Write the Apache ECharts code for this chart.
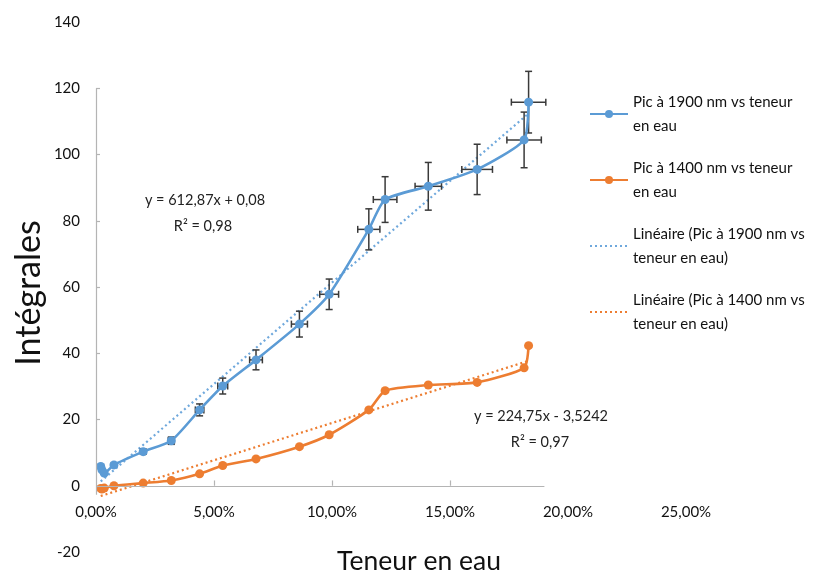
<!DOCTYPE html>
<html>
<head>
<meta charset="utf-8">
<script src="https://cdn.jsdelivr.net/npm/echarts@6/dist/echarts.min.js"></script>
<style>html,body{margin:0;padding:0;background:#fff;}#c{width:835px;height:575px;}</style>
</head>
<body>
<div id="c"></div>
<script>
// Water content (fraction) shared by both series
var waterContent = [0.0020,0.0025,0.0035,0.0076,0.0200,0.0319,0.0439,0.0537,0.0678,0.0862,0.0988,0.1156,0.1225,0.1408,0.1615,0.1814,0.1833];
// Integrals, peak at 1900 nm
var pic1900 = [5.8,4.8,3.8,6.3,10.3,13.6,22.9,30.1,38.0,48.8,57.8,77.4,86.4,90.4,95.5,104.4,115.8];
var pic1900ErrY = [0.5,0.4,0.3,0.5,0.8,1.1,1.8,2.4,3.0,3.9,4.6,6.2,6.9,7.2,7.6,8.4,9.3];
var pic1900ErrX = [0.0001,0.0001,0.0001,0.0003,0.0008,0.0013,0.0018,0.0021,0.0027,0.0034,0.0040,0.0047,0.0050,0.0056,0.0065,0.0073,0.0073];
// Integrals, peak at 1400 nm
var pic1400 = [-0.8,-1.0,-0.7,0.0,0.8,1.6,3.6,6.1,8.1,11.8,15.4,22.9,28.7,30.4,31.2,35.6,42.3];
// Linear trend end points
var trend1900 = [[0.0020,1.3],[0.1833,112.4]];
var trend1400 = [[0.0020,-3.1],[0.1833,37.7]];
// Tick labels
var xTickLabels = ['0,00%','5,00%','10,00%','15,00%','20,00%','25,00%'];
var yTickLabels = ['-20','0','20','40','60','80','100','120','140'];
var yTickValues = [0,20,40,60,80,100,120];
var xTickValues = [0.05,0.10,0.15];

var names = ['Pic à 1900 nm vs teneur en eau','Pic à 1400 nm vs teneur en eau','Linéaire (Pic à 1900 nm vs teneur en eau)','Linéaire (Pic à 1400 nm vs teneur en eau)'];
var legendText = {};
legendText[names[0]] = 'Pic à 1900 nm vs teneur\nen eau';
legendText[names[1]] = 'Pic à 1400 nm vs teneur\nen eau';
legendText[names[2]] = 'Linéaire (Pic à 1900 nm vs\nteneur en eau)';
legendText[names[3]] = 'Linéaire (Pic à 1400 nm vs\nteneur en eau)';

var FONT = 'Lato, "Open Sans", sans-serif';
var BLUE = '#5B9BD5', ORANGE = '#ED7D31', AX = '#B4B4B4';
var CLEAR = 'rgba(0,0,0,0)';

function zip(xs, ys){ return xs.map(function(x,i){ return [x, ys[i]]; }); }

var axisMarks = [
  [{coord:[0,120]},{coord:[0,-2.7]}],
  [{coord:[0,0]},{coord:[0.19,0]}]
];
yTickValues.forEach(function(v){ axisMarks.push([{coord:[0,v]},{coord:[0.0017,v]}]); });
xTickValues.forEach(function(v){ axisMarks.push([{coord:[v,0]},{coord:[v,1.6]}]); });

var chart = echarts.init(document.getElementById('c'), null, {renderer:'canvas'});
chart.setOption({
  animation: false,
  backgroundColor: '#fff',
  textStyle: {fontFamily: FONT},
  grid: {left: 96, right: 149, top: 22, bottom: 23, containLabel: false},
  xAxis: {
    type: 'value', min: 0, max: 0.25, interval: 0.05,
    offset: -66,
    axisLine: {show: false, onZero: false},
    axisTick: {show: false},
    splitLine: {show: false},
    axisLabel: {margin: 19, color: '#111', fontSize: 15, fontFamily: FONT,
      formatter: function(v){ return xTickLabels[Math.round(v/0.05)]; }}
  },
  yAxis: {
    type: 'value', min: -20, max: 140, interval: 20,
    axisLine: {show: false},
    axisTick: {show: false},
    splitLine: {show: false},
    axisLabel: {margin: 16, color: '#111', fontSize: 15, fontFamily: FONT,
      formatter: function(v){ return yTickLabels[Math.round((v+20)/20)]; }}
  },
  legend: {
    orient: 'vertical', left: 584, top: 73, itemGap: -6,
    itemWidth: 38, itemHeight: 10,
    data: [
      {name: names[0]},
      {name: names[1]},
      {name: names[2], itemStyle: {color: CLEAR, borderColor: CLEAR, borderWidth: 0}},
      {name: names[3], itemStyle: {color: CLEAR, borderColor: CLEAR, borderWidth: 0}}
    ],
    formatter: function(n){ return legendText[n]; },
    textStyle: {fontSize: 15, lineHeight: 24, color: '#111', fontFamily: FONT, padding: [24,0,0,0]}
  },
  graphic: [
    {type:'text', x: 29, y: 293, rotation: Math.PI/2,
      style:{text:'Intégrales', font:'34px ' + FONT, fill:'#111', textAlign:'center', textVerticalAlign:'middle'}},
    {type:'text', x: 419, y: 561,
      style:{text:'Teneur en eau', font:'26.5px ' + FONT, fill:'#111', textAlign:'center', textVerticalAlign:'middle'}},
    {type:'text', x: 205, y: 200,
      style:{text:'y = 612,87x + 0,08', font:'14.5px ' + FONT, fill:'#222', textAlign:'center', textVerticalAlign:'middle'}},
    {type:'text', x: 203, y: 226,
      style:{text:'R² = 0,98', font:'14.5px ' + FONT, fill:'#222', textAlign:'center', textVerticalAlign:'middle'}},
    {type:'text', x: 541, y: 416,
      style:{text:'y = 224,75x - 3,5242', font:'14.5px ' + FONT, fill:'#222', textAlign:'center', textVerticalAlign:'middle'}},
    {type:'text', x: 540, y: 442,
      style:{text:'R² = 0,97', font:'14.5px ' + FONT, fill:'#222', textAlign:'center', textVerticalAlign:'middle'}}
  ],
  series: [
    {
      name: names[2], type: 'line', data: trend1900, symbol: 'circle', showSymbol: false, z: 1,
      lineStyle: {color: '#6FA8DC', width: 2.2, type: [2,3]}, itemStyle: {color: '#6FA8DC'}
    },
    {
      name: names[3], type: 'line', data: trend1400, symbol: 'circle', showSymbol: false, z: 1, clip: false,
      lineStyle: {color: ORANGE, width: 2.2, type: [2,3]}, itemStyle: {color: ORANGE},
      markLine: {silent: true, symbol: ['none','none'], label: {show: false},
        lineStyle: {color: AX, width: 1.2, type: 'solid'}, emphasis: {disabled: true},
        data: axisMarks}
    },
    {
      name: 'err', type: 'custom', z: 2,
      data: waterContent.map(function(x,i){ return [x, pic1900[i], pic1900ErrX[i], pic1900ErrY[i]]; }),
      encode: {x: 0, y: 1},
      renderItem: function(params, api){
        var x = api.value(0), y = api.value(1), ex = api.value(2), ey = api.value(3);
        var t = api.coord([x, y+ey]), b = api.coord([x, y-ey]);
        var l = api.coord([x-ex, y]), r = api.coord([x+ex, y]);
        var c = 3.5;
        var st = {stroke: '#3A3A3A', lineWidth: 1.5};
        return {type: 'group', children: [
          {type:'line', shape:{x1:t[0],y1:t[1],x2:b[0],y2:b[1]}, style: st},
          {type:'line', shape:{x1:t[0]-c,y1:t[1],x2:t[0]+c,y2:t[1]}, style: st},
          {type:'line', shape:{x1:b[0]-c,y1:b[1],x2:b[0]+c,y2:b[1]}, style: st},
          {type:'line', shape:{x1:l[0],y1:l[1],x2:r[0],y2:r[1]}, style: st},
          {type:'line', shape:{x1:l[0],y1:l[1]-c,x2:l[0],y2:l[1]+c}, style: st},
          {type:'line', shape:{x1:r[0],y1:r[1]-c,x2:r[0],y2:r[1]+c}, style: st}
        ]};
      }
    },
    {
      name: names[0], type: 'line', data: zip(waterContent, pic1900), smooth: 0.2, z: 3,
      symbol: 'circle', symbolSize: 9,
      lineStyle: {color: BLUE, width: 2.6}, itemStyle: {color: BLUE}
    },
    {
      name: names[1], type: 'line', data: zip(waterContent, pic1400), smooth: 0.2, z: 3,
      symbol: 'circle', symbolSize: 9,
      lineStyle: {color: ORANGE, width: 2.6}, itemStyle: {color: ORANGE}
    }
  ]
});
</script>
</body>
</html>
